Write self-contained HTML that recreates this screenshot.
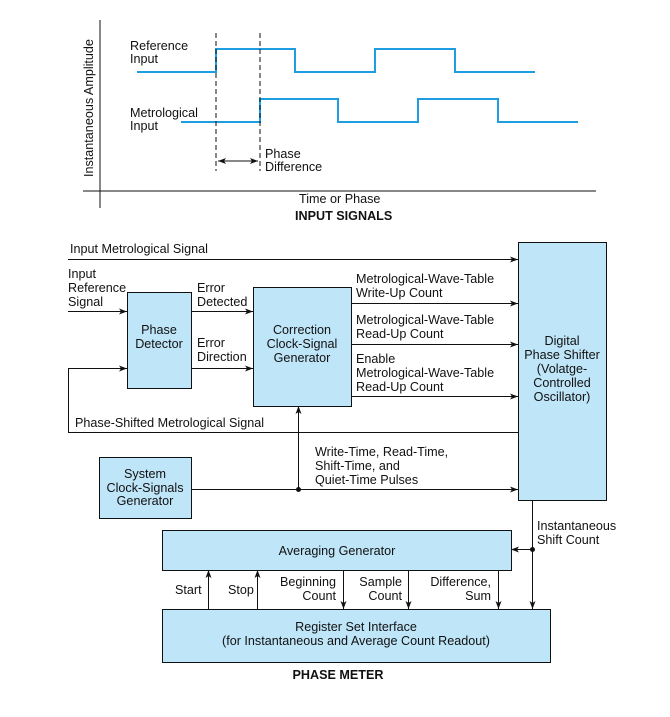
<!DOCTYPE html>
<html><head><style>
body{margin:0;background:#fff;}
svg text{font-family:"Liberation Sans",sans-serif;font-size:12.6px;fill:#111;}
</style></head><body>
<svg width="670" height="712" viewBox="0 0 670 712" xmlns="http://www.w3.org/2000/svg">
<defs>
<marker id="a" markerWidth="8" markerHeight="6" refX="8" refY="3" orient="auto" markerUnits="userSpaceOnUse"><path d="M0,0 L8,3 L0,6 L2,3 z" fill="#111"/></marker>
</defs>
<!-- top chart -->
<line x1="100" y1="20" x2="100" y2="208" stroke="#111" stroke-width="1"/>
<line x1="83" y1="191" x2="596" y2="191" stroke="#111" stroke-width="1"/>
<text transform="translate(93,177) rotate(-90)">Instantaneous Amplitude</text>
<text x="130" y="50">Reference</text><text x="130" y="63">Input</text>
<text x="130" y="117">Metrological</text><text x="130" y="130">Input</text>
<polyline fill="none" stroke="#1e9ee0" stroke-width="2" points="137,72 216,72 216,49 295,49 295,72 375,72 375,49 455,49 455,72 535,72"/>
<polyline fill="none" stroke="#1e9ee0" stroke-width="2" points="181,122 260,122 260,99 338,99 338,122 418,122 418,99 498,99 498,122 578,122"/>
<line x1="216" y1="33" x2="216" y2="171" stroke="#111" stroke-dasharray="5,3"/>
<line x1="260" y1="33" x2="260" y2="171" stroke="#111" stroke-dasharray="5,3"/>
<line x1="218" y1="161" x2="258" y2="161" stroke="#111" marker-end="url(#a)"/>
<line x1="258" y1="161" x2="218" y2="161" stroke="#111" marker-end="url(#a)"/>
<text x="265" y="158">Phase</text><text x="265" y="171">Difference</text>
<text x="299" y="203">Time or Phase</text>
<text x="295" y="220" style="font-weight:bold">INPUT SIGNALS</text>
<!-- boxes -->
<g fill="#bfe5f8" stroke="#111" stroke-width="1">
<rect x="518.5" y="242.5" width="88" height="258"/>
<rect x="127.5" y="292.5" width="64" height="96"/>
<rect x="253.5" y="287.5" width="98" height="119"/>
<rect x="99.5" y="457.5" width="92" height="61"/>
<rect x="162.5" y="530.5" width="349" height="40"/>
<rect x="162.5" y="609.5" width="388" height="53"/>
</g>
<g stroke="#111" stroke-width="1" fill="none">
<line x1="68" y1="259.5" x2="518" y2="259.5" marker-end="url(#a)"/>
<line x1="68" y1="311.5" x2="127" y2="311.5" marker-end="url(#a)"/>
<polyline points="518,432.5 68.5,432.5 68.5,368.5 127,368.5" marker-end="url(#a)"/>
<line x1="191" y1="311.5" x2="253" y2="311.5" marker-end="url(#a)"/>
<line x1="191" y1="368.5" x2="253" y2="368.5" marker-end="url(#a)"/>
<line x1="351" y1="303.5" x2="518" y2="303.5" marker-end="url(#a)"/>
<line x1="351" y1="344.5" x2="518" y2="344.5" marker-end="url(#a)"/>
<line x1="351" y1="396.5" x2="518" y2="396.5" marker-end="url(#a)"/>
<line x1="191" y1="489.5" x2="518" y2="489.5" marker-end="url(#a)"/>
<line x1="298.5" y1="489" x2="298.5" y2="406" marker-end="url(#a)"/>
<line x1="532.5" y1="500" x2="532.5" y2="609" marker-end="url(#a)"/>
<line x1="532" y1="549.5" x2="511" y2="549.5" marker-end="url(#a)"/>
<line x1="208.5" y1="609" x2="208.5" y2="570" marker-end="url(#a)"/>
<line x1="257.5" y1="609" x2="257.5" y2="570" marker-end="url(#a)"/>
<line x1="343.5" y1="570" x2="343.5" y2="609" marker-end="url(#a)"/>
<line x1="408.5" y1="570" x2="408.5" y2="609" marker-end="url(#a)"/>
<line x1="498.5" y1="570" x2="498.5" y2="609" marker-end="url(#a)"/>
</g>
<circle cx="298.5" cy="489.5" r="2.5" fill="#111"/>
<circle cx="532.5" cy="549.5" r="2.5" fill="#111"/>
<text x="70" y="253">Input Metrological Signal</text>
<text x="68" y="278">Input</text><text x="68" y="292">Reference</text><text x="68" y="306">Signal</text>
<text x="197" y="292">Error</text><text x="197" y="306">Detected</text>
<text x="197" y="347">Error</text><text x="197" y="361">Direction</text>
<text x="159" y="334" text-anchor="middle">Phase</text><text x="159" y="348" text-anchor="middle">Detector</text>
<text x="302" y="334" text-anchor="middle">Correction</text><text x="302" y="348" text-anchor="middle">Clock-Signal</text><text x="302" y="362" text-anchor="middle">Generator</text>
<text x="356" y="283">Metrological-Wave-Table</text><text x="356" y="297">Write-Up Count</text>
<text x="356" y="324">Metrological-Wave-Table</text><text x="356" y="338">Read-Up Count</text>
<text x="356" y="363">Enable</text><text x="356" y="377">Metrological-Wave-Table</text><text x="356" y="391">Read-Up Count</text>
<text x="562" y="345" text-anchor="middle">Digital</text><text x="562" y="359" text-anchor="middle">Phase Shifter</text><text x="562" y="373" text-anchor="middle">(Volatge-</text><text x="562" y="387" text-anchor="middle">Controlled</text><text x="562" y="401" text-anchor="middle">Oscillator)</text>
<text x="75" y="427">Phase-Shifted Metrological Signal</text>
<text x="315" y="456">Write-Time, Read-Time,</text><text x="315" y="470">Shift-Time, and</text><text x="315" y="484">Quiet-Time Pulses</text>
<text x="145" y="478" text-anchor="middle">System</text><text x="145" y="492" text-anchor="middle">Clock-Signals</text><text x="145" y="505" text-anchor="middle">Generator</text>
<text x="537" y="530">Instantaneous</text><text x="537" y="544">Shift Count</text>
<text x="337" y="555" text-anchor="middle">Averaging Generator</text>
<text x="175" y="594">Start</text><text x="228" y="594">Stop</text>
<text x="336" y="586" text-anchor="end">Beginning</text><text x="336" y="600" text-anchor="end">Count</text>
<text x="402" y="586" text-anchor="end">Sample</text><text x="402" y="600" text-anchor="end">Count</text>
<text x="491" y="586" text-anchor="end">Difference,</text><text x="491" y="600" text-anchor="end">Sum</text>
<text x="356" y="631" text-anchor="middle">Register Set Interface</text>
<text x="356" y="645" text-anchor="middle">(for Instantaneous and Average Count Readout)</text>
<text x="338" y="679" text-anchor="middle" style="font-weight:bold">PHASE METER</text>
</svg>
</body></html>
